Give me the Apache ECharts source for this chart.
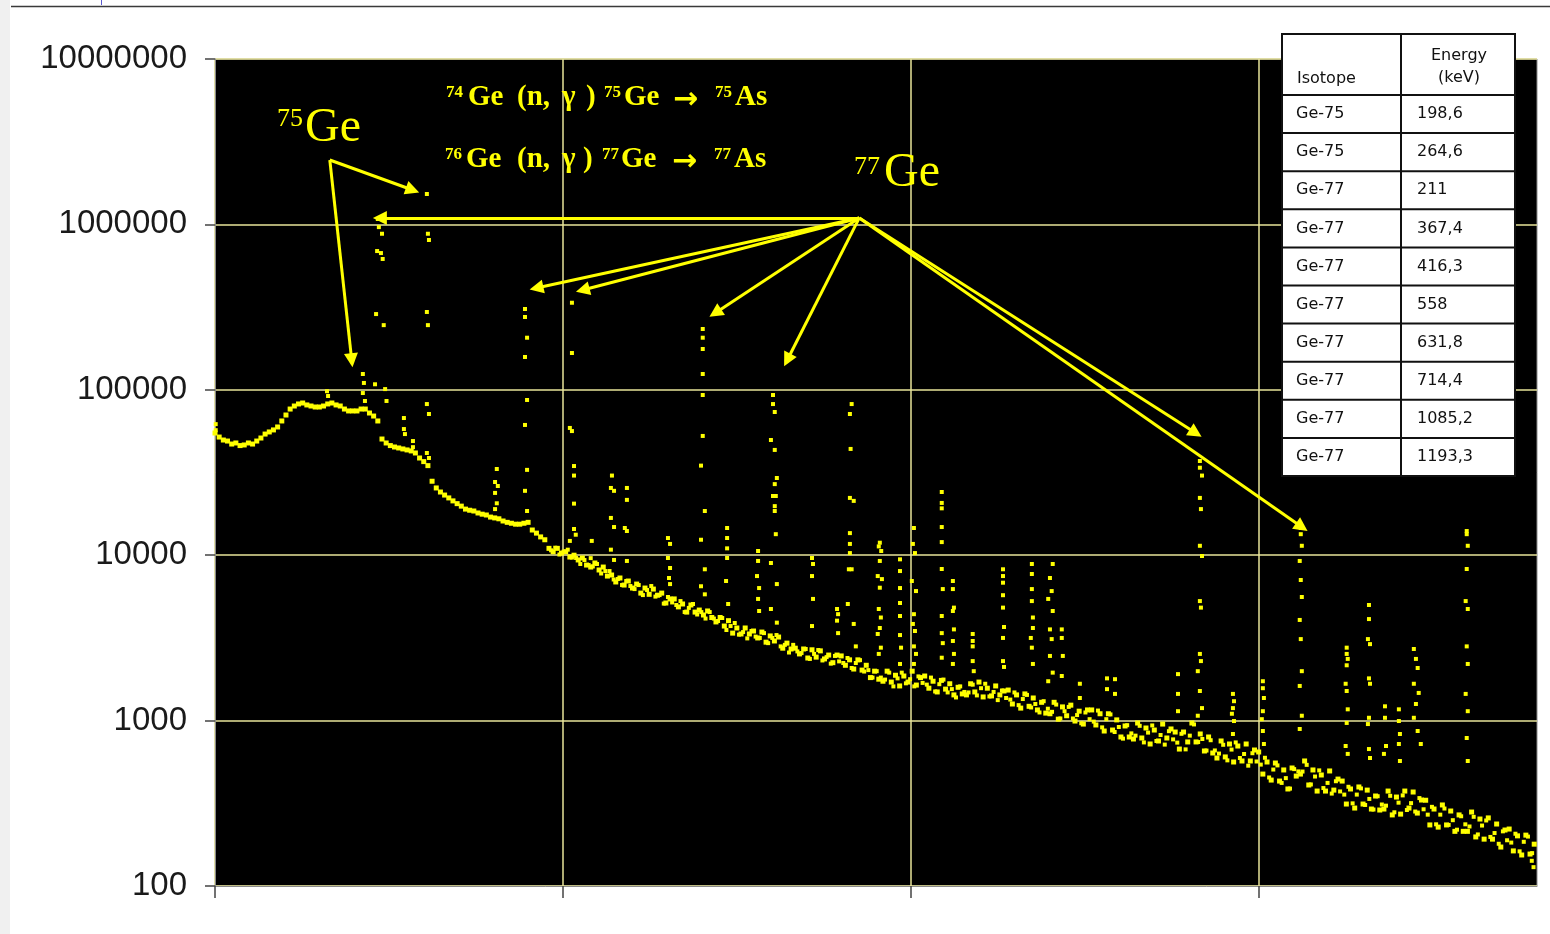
<!DOCTYPE html>
<html><head><meta charset="utf-8">
<script src="https://cdn.jsdelivr.net/npm/echarts@6/dist/echarts.min.js"></script>
<style>html,body{margin:0;padding:0;background:#fff}#c{width:1550px;height:934px}</style>
</head><body><div id="c"></div>
<script>
// ---- data (x = channel, y = counts) ----
const contStep = 12; // channel spacing of the continuum samples
const continuum = [
54800,51800,49700,49000,47000,47700,46000,46400,47700,47000,
49000,51100,54000,55600,57200,59600,64800,70400,76500,79800,
82100,83200,81000,79800,78700,78700,79800,82100,83200,81000,
79800,76500,74500,74500,74500,76500,76500,72400,69400,64800,
50400,47700,46000,45100,44500,43900,43300,42700,41500,38700,
36800,34800,28000,25500,24100,23100,22200,21300,20500,19800,
19000,18700,18500,18000,17700,17500,17000,16800,16600,16100,
15800,15600,15400,15400,15600,15800,14200,13600,12900,12400,
11000,10500,11000,10300,10500,9750,10000,9360,9620,8720,
8480,8970,8140,8480,7480,7590,6890,7280,6600,6980,
6330,6690,5900,6330,5800,6240,5730,5900,5140,5440,
5440,4870,5070,4530,5000,4530,4660,4350,4600,4200,
3950,4200,3730,4020,3380,3630,3340,3630,3340,3480,
3160,3430,2980,3250,3030,3200,2740,2940,2710,2740,
2530,2710,2390,2680,2420,2640,2360,2490,2240,2490,
2460,2160,2330,2050,2330,2020,2160,1820,1990,1780,
1730,1990,1710,1880,1620,1860,1710,1990,1640,1820,
1860,1570,1730,1490,1750,1550,1670,1430,1590,1450,
1430,1670,1490,1710,1390,1570,1410,1620,1430,1510,
1530,1260,1430,1190,1450,1220,1370,1160,1290,1110,
1100,1290,1020,1210,1070,1240,994,1140,953,1160,
1160,941,1100,865,1100,877,1010,796,928,796,
774,967,785,902,722,877,753,953,785,890,
853,673,853,743,967,743,830,655,796,637,
594,753,603,722,562,702,570,722,570,664,
646,475,562,437,554,431,503,386,517,462,
475,570,408,503,375,469,375,496,380,443,
431,313,386,296,397,313,380,292,350,288,
292,375,269,345,272,375,296,370,276,331,
330,234,292,227,309,234,284,214,269,214,
214,280,198,254,192,258,192,237,172,218,
221,163,201,154,203,156,179
];
// second, interleaved pass through the noisy part of the continuum
const fillStartCh = 966;
const continuumFill = [
10700,11100,10100,10500,10800,9680,9620,8850,9350,8720,
8550,8850,7750,8020,8020,7130,7180,6600,6980,6510,
6240,6600,5740,6160,6510,5620,5740,5100,5590,5180,
5000,5280,4530,4800,5070,4380,4530,4140,4530,4140,
4000,4170,3530,3730,3890,3310,3430,3140,3480,3220,
3160,3380,2940,3160,3290,2810,2870,2580,2870,2620,
2560,2710,2360,2530,2670,2310,2420,2210,2460,2280,
2230,2390,2080,2230,2320,1980,2020,1820,1990,1820,
1770,1950,1610,1800,1950,1680,1780,1610,1850,1690,
1650,1820,1500,1660,1770,1480,1550,1380,1610,1490,
1480,1650,1420,1570,1670,1400,1490,1330,1520,1370,
1340,1480,1240,1350,1430,1200,1260,1120,1310,1180,
1130,1250,1030,1140,1210,1030,1080,964,1120,1020,
986,1150,910,1020,1090,853,915,778,938,837,
811,930,738,846,935,753,818,716,863,770,
736,832,670,811,948,742,774,659,761,660,
632,714,575,668,738,594,628,534,635,566,
542,596,453,506,536,420,449,388,509,493,
492,540,411,459,500,391,420,362,430,373,
357,398,316,357,389,309,336,290,349,311,
306,351,279,319,353,288,317,282,340,291,
270,301,236,270,294,234,250,219,264,236,
229,262,205,232,249,198,209,180,214,189,
183,207,162,185,199,158
];
const peakDots = [
[2,62000],[2,57000],[322,98000],[325,91700],
[425,124600],[428,110000],[425,95600],[431,85600],
[468,1078000],[471,963000],[480,878000],[466,690000],[477,671000],[482,618000],[463,287000],[485,246000],[460,108000],[489,101000],[493,85600],
[543,67500],[543,57900],[546,54000],[569,49000],[569,45000],
[609,1527000],[612,878000],[615,805000],[609,295500],[612,246000],[609,82000],[615,71400],[609,41500],[615,38700],
[810,33200],[805,27700],[813,26200],[805,23800],[810,20600],[805,19000],
[891,308000],[891,275500],[897,206500],[891,157900],[897,86800],[891,61300],[897,32800],[891,24500],[897,18500],
[1026,336000],[1026,166900],[1020,58800],[1026,56300],[1032,34600],[1032,30300],[1032,20500],[1032,14400],[1037,13300],[1020,12200],
[1083,12200],[1080,9600],
[1141,30300],[1138,25500],[1147,24500],[1138,16800],[1147,14800],[1138,10800],[1147,9360],
[1184,25500],[1184,21600],[1178,14600],[1184,14000],[1184,9230],
[1302,12700],[1308,11700],[1302,9620],[1308,8370],[1305,7280],[1308,6690],
[1402,233100],[1402,206500],[1402,176500],[1402,124600],[1402,93000],[1402,52600],[1397,34800],[1408,18500],[1397,12400],[1408,8220],[1397,6490],[1408,5800],
[1472,14600],[1472,12700],[1472,11000],[1472,9620],[1469,6980],[1475,5070],
[1561,10600],[1561,9230],[1558,7480],[1564,6330],[1561,5440],[1564,4600],
[1604,93000],[1604,82000],[1609,73400],[1598,49700],[1609,43300],[1615,29300],[1609,26900],[1604,22800],[1612,22800],[1609,19800],[1609,18500],[1612,13400],[1598,8970],[1615,6690],[1598,4730],[1615,3910],
[1716,9620],[1719,8850],[1716,7480],[1719,5440],[1716,3730],
[1788,4730],[1791,4400],[1788,4020],[1791,3380],
[1830,82000],[1825,71400],[1827,43900],[1825,22200],[1836,21300],[1825,13600],[1825,11700],[1825,10300],[1822,8220],[1830,8220],[1819,5070],[1836,3840],[1842,2810],
[1911,11900],[1915,10600],[1908,11300],[1911,9230],[1905,7480],[1917,7170],[1911,6360],[1908,4730],[1914,4200],[1911,3630],[1905,3340],[1914,2760],[1908,2530],
[1969,9440],[1969,8020],[1969,6330],[1969,5140],[1969,4290],[1969,3290],[1972,2760],[1969,2200],
[2009,14600],[2006,11700],[2012,10300],[2003,6980],[2015,6070],[2009,4400],[2006,3840],[2012,3480],[2009,2810],[2015,2530],[2009,2200],
[2089,24100],[2089,20700],[2089,19200],[2089,14800],[2089,12000],[2089,8250],[2092,6240],[2089,4290],[2089,3380],[2092,2940],[2089,2400],
[2121,6980],[2121,6240],[2124,4820],[2121,4600],[2124,3560],[2121,3030],[2124,2530],[2121,2200],
[2178,3340],[2178,3030],[2178,2810],[2178,2290],[2181,1990],
[2265,8220],[2265,7480],[2265,6820],[2265,5730],[2265,4820],[2268,3680],[2265,3160],[2265,2290],[2268,2110],
[2348,8850],[2348,7700],[2348,6240],[2348,5280],[2351,4200],[2351,3630],[2345,3160],[2348,2760],[2351,2200],
[2408,8850],[2400,7280],[2405,6070],[2395,5440],[2408,4600],[2400,3560],[2405,3110],[2400,2460],[2408,1950],[2395,1730],
[2434,3560],[2434,3160],[2437,2460],[2434,1860],
[2486,1670],[2486,1370],[2564,1800],[2564,1550],[2587,1780],[2587,1450],
[2768,1910],[2768,1450],[2768,1140],
[2831,37100],[2831,33800],[2837,30300],[2831,22200],[2834,19000],[2831,11400],[2837,9890],[2831,5280],[2834,4820],[2831,2530],[2834,2290],[2825,1990],[2831,1510],[2837,1190],[2825,1070],
[2926,1450],[2929,1310],[2926,1190],[2923,1100],[2929,994],[2926,830],
[3012,1730],[3012,1570],[3015,1370],[3012,1140],[3009,1020],[3012,865],[3015,722],
[3121,14600],[3121,13400],[3124,11400],[3118,9230],[3121,7080],[3124,5590],[3118,4060],[3121,3110],[3124,1990],[3118,1620],[3124,1070],[3118,890],
[3253,2760],[3253,2530],[3256,2360],[3253,2160],[3250,1670],[3253,1510],[3256,1170],[3253,968],[3250,702],[3256,629],
[3317,5000],[3317,4110],[3314,3110],[3320,2900],[3317,1800],[3320,1670],[3317,1040],[3314,953],[3317,673],[3320,594],
[3363,1220],[3363,1040],[3366,702],[3360,629],
[3403,1170],[3403,994],[3406,830],[3403,722],[3406,570],
[3446,2710],[3452,2360],[3457,2080],[3446,1670],[3460,1470],[3452,1260],[3446,1040],[3457,865],[3466,722],
[3598,14000],[3598,13400],[3601,11400],[3598,8250],[3595,5280],[3601,4730],[3598,2810],[3601,2200],[3595,1450],[3601,1140],[3598,785],[3601,570],
[3785,142],[3790,130]
];
// annotation arrows: [from, to] in (channel, counts)
const ge75From = [330, 2450000];
const ge75To = [[393, 151000], [568, 1614000]];
const ge77From = [1852, 1094000];
const ge77To = [[474, 1094000], [924, 412600], [1057, 401200], [1438, 291300], [1645, 151400], [2819, 54800], [3124, 14810]];
// table
const tableHeader = ['Isotope', 'Energy', '(keV)'];
const isotopes = ['Ge-75','Ge-75','Ge-77','Ge-77','Ge-77','Ge-77','Ge-77','Ge-77','Ge-77','Ge-77'];
const energies = ['198,6','264,6','211','367,4','416,3','558','631,8','714,4','1085,2','1193,3'];
const xMin = 0, xMax = 3800, xInterval = 1000;
const xTicks = [0, 1000, 2000, 3000];
const yMin = 100, yMax = 10000000;

// ---- chart ----
const YEL = '#ffff00';
const chart = echarts.init(document.getElementById('c'), null, {renderer: 'canvas'});

const arrowData = [];
ge75To.forEach(t => arrowData.push([{coord: ge75From}, {coord: t}]));
ge77To.forEach(t => arrowData.push([{coord: ge77From}, {coord: t}]));

const graphics = [];
graphics.push({type: 'rect', shape: {x: 0, y: 0, width: 10, height: 934}, style: {fill: '#f0f0f0'}, z: 1});
graphics.push({type: 'line', shape: {x1: 11, y1: 6.5, x2: 1550, y2: 6.5}, style: {stroke: '#3a3a3a', lineWidth: 1.5}, z: 1});
graphics.push({type: 'line', shape: {x1: 101.5, y1: 0, x2: 101.5, y2: 5}, style: {stroke: '#5a5acf', lineWidth: 1}, z: 1});

// table
const tX = 1282, tY = 34, tW = 233, colX = 1401, headH = 61, rowH = 38.1;
const tH = headH + rowH * isotopes.length;
graphics.push({type: 'rect', shape: {x: tX, y: tY, width: tW, height: tH}, style: {fill: '#fff', stroke: '#111', lineWidth: 2}, z: 50});
graphics.push({type: 'line', shape: {x1: colX, y1: tY, x2: colX, y2: tY + tH}, style: {stroke: '#111', lineWidth: 2}, z: 51});
for (let i = 0; i < isotopes.length; i++) {
  const yy = tY + headH + rowH * i;
  graphics.push({type: 'line', shape: {x1: tX, y1: yy, x2: tX + tW, y2: yy}, style: {stroke: '#111', lineWidth: 2}, z: 51});
}
const tFont = '16px "DejaVu Sans"';
function txt(t, x, y, align, font, fill, va) {
  return {type: 'text', x: x, y: y, z: 60,
    style: {text: t, font: font, fill: fill, align: align, textAlign: align,
            verticalAlign: va || 'middle', textVerticalAlign: va || 'middle'}};
}
graphics.push(txt(tableHeader[0], 1297, 79, 'left', tFont, '#111'));
graphics.push(txt(tableHeader[1], 1459, 56, 'center', tFont, '#111'));
graphics.push(txt(tableHeader[2], 1459, 78, 'center', tFont, '#111'));
for (let i = 0; i < isotopes.length; i++) {
  const cy = tY + headH + rowH * (i + 0.5);
  graphics.push(txt(isotopes[i], 1296, cy, 'left', tFont, '#111'));
  graphics.push(txt(energies[i], 1417, cy, 'left', tFont, '#111'));
}

// annotation texts
const bigF = '48px "Liberation Serif"', bigSup = '26px "Liberation Serif"';
graphics.push(txt('75', 277, 106, 'left', bigSup, YEL, 'top'));
graphics.push(txt('Ge', 305, 104, 'left', bigF, YEL, 'top'));
graphics.push(txt('77', 854, 154, 'left', bigSup, YEL, 'top'));
graphics.push(txt('Ge', 884, 149, 'left', bigF, YEL, 'top'));

const mF = 'bold 29px "Liberation Serif"', sF = 'bold 17px "Liberation Serif"', aF = 'bold 30px "DejaVu Sans"';
// [text, x, kind]  kind: 0 main, 1 superscript, 2 arrow
const line1 = [['74', 446, 1], ['Ge', 468, 0], ['(n,', 517, 0], ['γ', 562, 0], [')', 586, 0], ['75', 604, 1], ['Ge', 624, 0], ['→', 673, 2], ['75', 715, 1], ['As', 735, 0]];
const line2 = [['76', 445, 1], ['Ge', 466, 0], ['(n,', 517, 0], ['γ', 562, 0], [')', 583, 0], ['77', 602, 1], ['Ge', 621, 0], ['→', 672, 2], ['77', 714, 1], ['As', 734, 0]];
[[line1, 83], [line2, 145]].forEach(([ln, y0]) => {
  ln.forEach(([t, x, k]) => {
    const f = k === 1 ? sF : (k === 2 ? aF : mF);
    const yy = k === 1 ? y0 + 1 : (k === 2 ? y0 + 2 : y0);
    graphics.push(txt(t, x, yy, 'left', f, YEL, 'top'));
  });
});

const option = {
  animation: false,
  backgroundColor: '#ffffff',
  grid: {left: 215, right: 13, top: 59, bottom: 48, show: true, backgroundColor: '#000000', borderColor: '#8a8a8a', borderWidth: 1},
  xAxis: {
    type: 'value', min: xMin, max: xMax, interval: xInterval,
    axisLine: {show: true, lineStyle: {color: '#8a8a8a', width: 1}},
    axisTick: {show: true, length: 12, customValues: xTicks, lineStyle: {color: '#444', width: 1.5}},
    axisLabel: {show: false},
    splitLine: {show: true, lineStyle: {color: '#e8e49a', width: 1.5}}
  },
  yAxis: {
    type: 'log', logBase: 10, min: yMin, max: yMax,
    axisLine: {show: true, lineStyle: {color: '#8a8a8a', width: 1}},
    axisTick: {show: true, length: 10, lineStyle: {color: '#444', width: 1.5}},
    axisLabel: {show: true, fontSize: 33, fontFamily: '"Liberation Sans"', color: '#1a1a1a', margin: 28,
      formatter: v => String(Math.round(v))},
    splitLine: {show: true, lineStyle: {color: '#e8e49a', width: 1.5}}
  },
  series: [
    {type: 'scatter', name: 'continuum', silent: true, symbol: 'rect', symbolSize: 5,
      itemStyle: {color: YEL, opacity: 1}, data: continuum.map((v, i) => [i * contStep, v]), z: 3},
    {type: 'scatter', name: 'continuum fill', silent: true, symbol: 'rect', symbolSize: 4,
      itemStyle: {color: YEL, opacity: 1}, data: continuumFill.map((v, i) => [fillStartCh + i * contStep, v]), z: 3},
    {type: 'scatter', name: 'peaks', silent: true, symbol: 'rect', symbolSize: 4,
      itemStyle: {color: YEL, opacity: 1}, data: peakDots, z: 3,
      markLine: {silent: true, symbol: ['none', 'triangle'], symbolSize: 14,
        lineStyle: {color: YEL, width: 3, type: 'solid', opacity: 1}, label: {show: false},
        itemStyle: {color: YEL},
        emphasis: {disabled: true}, data: arrowData}}
  ],
  graphic: graphics
};
chart.setOption(option);
</script></body></html>
